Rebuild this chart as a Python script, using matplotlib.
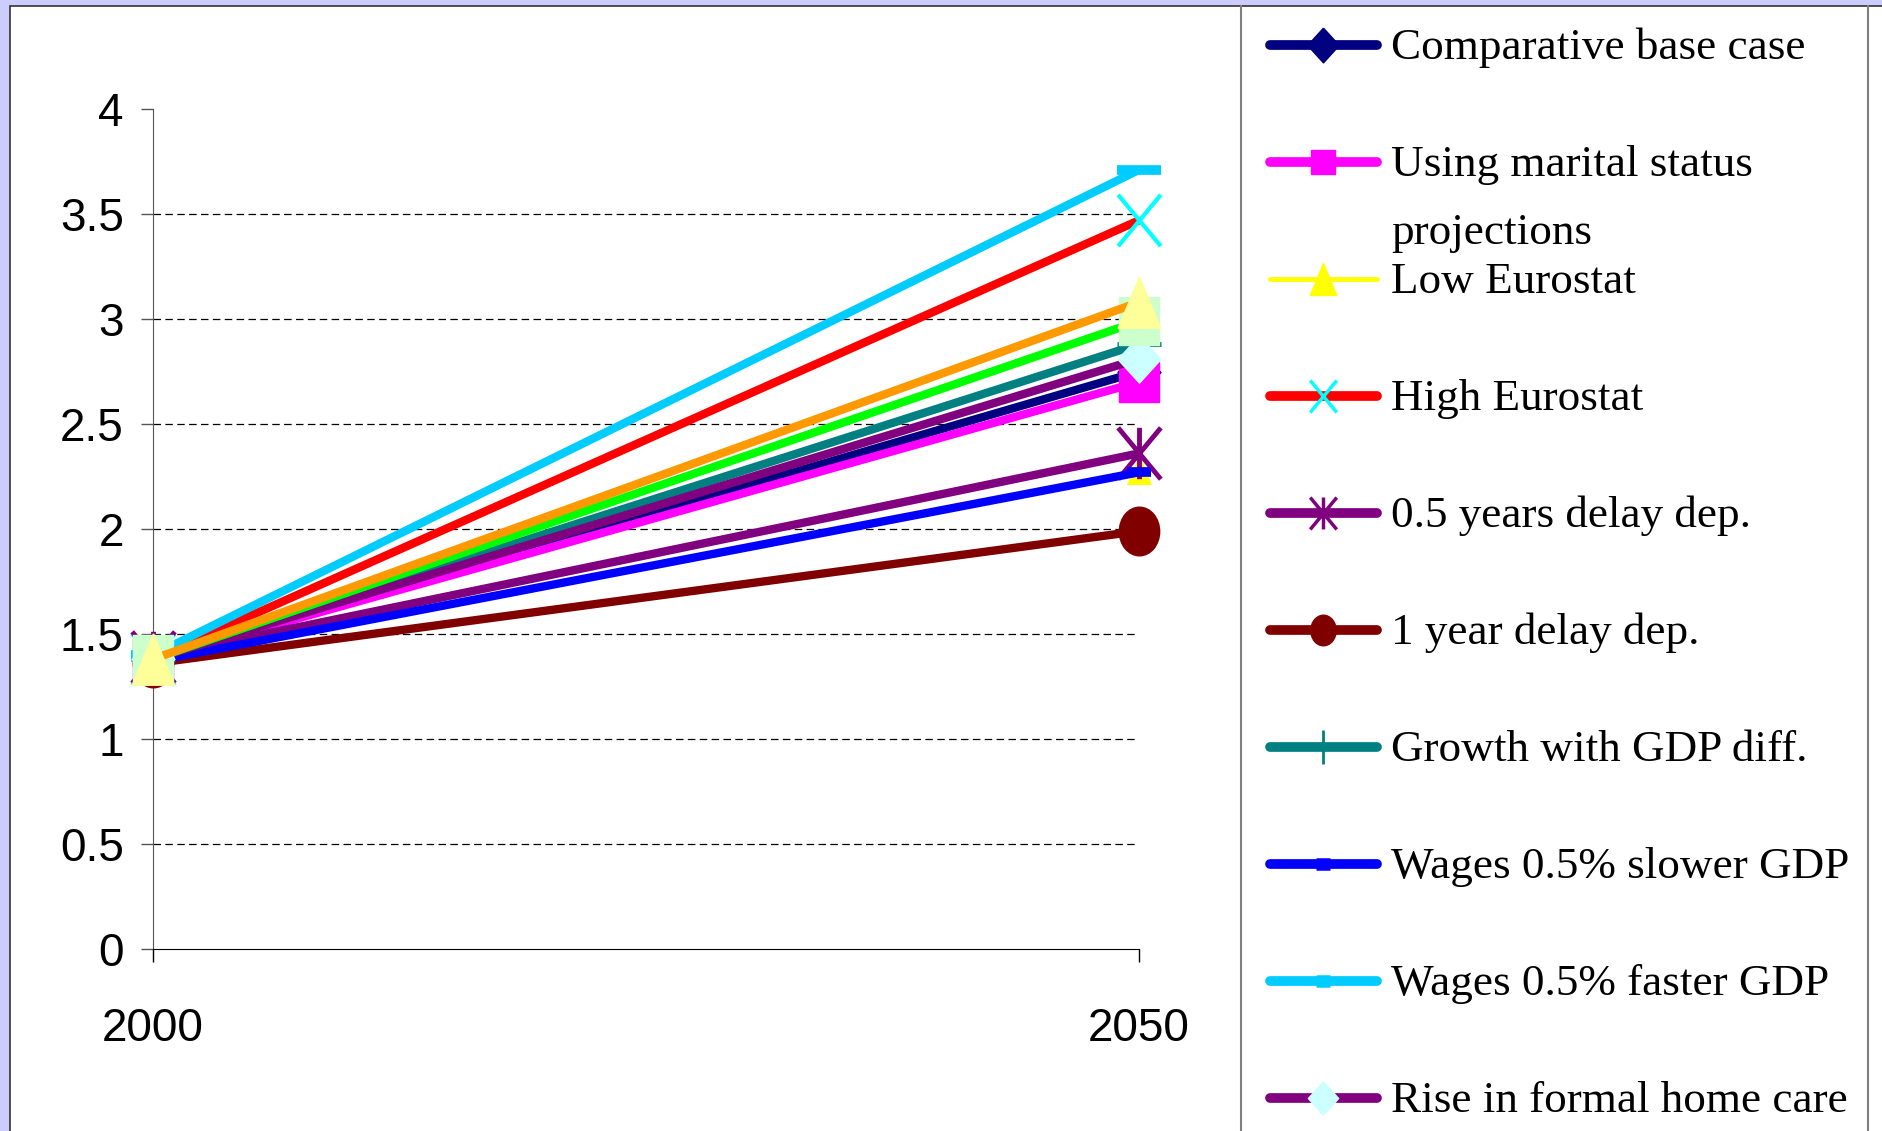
import numpy as np
import matplotlib.pyplot as plt
from matplotlib.lines import Line2D
from matplotlib.patches import Rectangle
from matplotlib.path import Path

# data
years = [2000, 2050]
labels = ['Comparative base case', 'Using marital status\nprojections', 'Low Eurostat',
          'High Eurostat', '0.5 years delay dep.', '1 year delay dep.',
          'Growth with GDP diff.', 'Wages 0.5% slower GDP', 'Wages 0.5% faster GDP',
          'Rise in formal home care', None, None]
start_vals = [1.38, 1.38, 1.37, 1.38, 1.39, 1.36, 1.38, 1.37, 1.40, 1.38, 1.38, 1.38]
end_vals = [2.75, 2.70, 2.28, 3.47, 2.36, 1.99, 2.88, 2.27, 3.71, 2.81, 2.99, 3.08]
yticks = [0, 0.5, 1, 1.5, 2, 2.5, 3, 3.5, 4]

# styles
line_colors = ['#000080', '#FF00FF', '#FFFF00', '#FF0000', '#800080', '#800000',
               '#008080', '#0000FF', '#00CCFF', '#800080', '#00FF00', '#FF9900']
marker_colors = ['#000080', '#FF00FF', '#FFFF00', '#00FFFF', '#800080', '#800000',
                 '#008080', '#0000FF', '#00CCFF', '#CCFFFF', '#CCFFCC', '#FFFF99']
line_widths = [6, 6, 2.5, 6, 6, 6, 6, 6, 6, 6, 6, 6]


def stretched(verts, codes=None, sx=0.83):
    v = np.array(verts, dtype=float)
    v[:, 0] *= sx
    return Path(v, codes)


M, L = Path.MOVETO, Path.LINETO
diamond = stretched([(0, 1), (1, 0), (0, -1), (-1, 0), (0, 1)], sx=0.91)
square = stretched([(-1, -1), (1, -1), (1, 1), (-1, 1), (-1, -1)])
triangle = stretched([(0, 1), (1, -1), (-1, -1), (0, 1)])
xmark = stretched([(-1, -1), (1, 1), (-1, 1), (1, -1)], [M, L, M, L])
star = stretched([(-1, -1), (1, 1), (-1, 1), (1, -1), (0, 1), (0, -1)], [M, L, M, L, M, L])
circ = Path.unit_circle()
ellipse = stretched(circ.vertices, circ.codes)

markers = [diamond, 's', triangle, xmark, star, ellipse, '+', '_', '_', diamond, square, triangle]
msizes = [34, 29, 20, 37, 37, 35, 31, 17, 31, 34, 35, 37]
leg_msizes = [25, 17, 23, 23, 23, 22, 25, 10, 10, 24, 0, 0]
mews = [1, 1, 1, 3, 3.5, 1, 3.5, 7, 7, 1, 1, 1]
leg_mews = [1, 1, 1, 2.5, 2.5, 1, 2, 9, 9, 1, 1, 1]

W, H = 1883, 1131
fig = plt.figure(figsize=(W / 100, H / 100), dpi=100, facecolor='#CCCCFF')
fig.patches.append(Rectangle((10 / W, -0.1), 1.0, 1.1 - 6 / H, transform=fig.transFigure,
                             facecolor='white', edgecolor='#333333', lw=1.2, zorder=-2))
for xp in [1241, 1868]:
    fig.add_artist(Line2D([xp / W, xp / W], [0, 1 - 6 / H], transform=fig.transFigure,
                          color='#808080', lw=1.5))

ax = fig.add_axes([153 / W, 1 - 949 / H, (1139 - 153) / W, (949 - 109) / H])
ax.set_facecolor('none')

for yv in yticks[1:-1]:
    ax.axhline(yv, color='black', lw=0.9, dashes=(6, 3.5), zorder=0.5)

for i in range(len(end_vals)):
    ax.plot(years, [start_vals[i], end_vals[i]], color=line_colors[i], lw=line_widths[i],
            marker=markers[i], markersize=msizes[i], markerfacecolor=marker_colors[i],
            markeredgecolor=marker_colors[i], markeredgewidth=mews[i],
            solid_capstyle='butt', clip_on=False, zorder=2 + i)

ax.set_xlim(2000, 2050)
ax.set_ylim(0, 4)
ax.set_xticks(years)
ax.set_xticklabels([str(y) for y in years])
ax.set_yticks(yticks)
ax.set_yticklabels([f'{v:g}' for v in yticks])
for s in ['top', 'right']:
    ax.spines[s].set_visible(False)
ax.spines['left'].set_color('#555555')
ax.spines['bottom'].set_color('black')
ax.tick_params(axis='y', length=9, width=1, pad=12, labelsize=33, color='#555555')
ax.tick_params(axis='x', length=9, width=1, pad=33, labelsize=33)
for lab in ax.get_xticklabels() + ax.get_yticklabels():
    lab.set_fontfamily('Liberation Sans')

# legend drawn by hand so that rows keep the fixed spacing of the original
for i, lab in enumerate(labels):
    if lab is None:
        continue
    yp = 1 - (45 + 117 * i) / H
    fig.add_artist(Line2D([1270 / W, 1377 / W], [yp, yp], transform=fig.transFigure,
                          color=line_colors[i], lw=7 if line_widths[i] > 3 else 3.5,
                          solid_capstyle='round'))
    fig.add_artist(Line2D([1323 / W], [yp], transform=fig.transFigure, lw=0,
                          marker=markers[i], markersize=leg_msizes[i],
                          markerfacecolor=marker_colors[i], markeredgecolor=marker_colors[i],
                          markeredgewidth=leg_mews[i]))
    for k, part in enumerate(lab.split('\n')):
        fig.text(1391 / W, yp - (14 + 68 * k) / H, part, fontsize=32.5,
                 family='Liberation Serif', va='baseline', ha='left')

fig.savefig('out.png', dpi=100, facecolor=fig.get_facecolor())
